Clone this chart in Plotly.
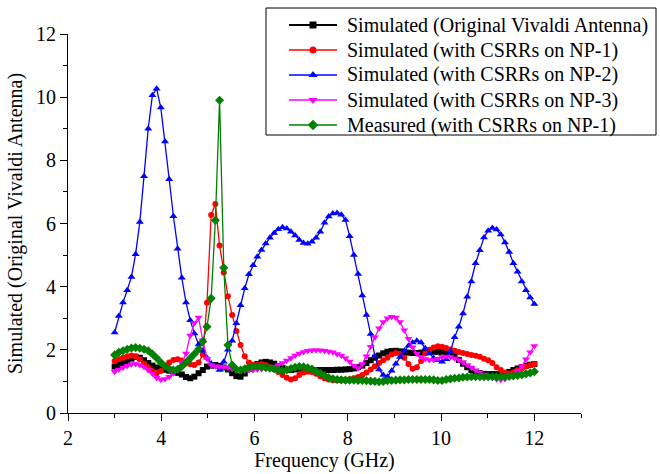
import numpy as np
import plotly.graph_objects as go

# Frequency sweep, 3-12 GHz in 101 points
freq_ghz = np.round(np.linspace(3.0, 12.0, 101), 2)

original_sim = [
    1.47, 1.52, 1.58, 1.64, 1.72, 1.78, 1.75, 1.67, 1.58, 1.50,
    1.44, 1.40, 1.37, 1.34, 1.31, 1.27, 1.22, 1.14, 1.10, 1.15,
    1.26, 1.36, 1.47, 1.50, 1.52, 1.49, 1.44, 1.38, 1.26, 1.17,
    1.15, 1.25, 1.40, 1.50, 1.55, 1.60, 1.62, 1.60, 1.56, 1.48,
    1.42, 1.37, 1.36, 1.38, 1.40, 1.40, 1.38, 1.36, 1.36, 1.36,
    1.36, 1.36, 1.36, 1.37, 1.37, 1.38, 1.39, 1.41, 1.45, 1.50,
    1.58, 1.67, 1.75, 1.82, 1.89, 1.94, 1.96, 1.97, 1.95, 1.93,
    1.91, 1.90, 1.90, 1.91, 1.92, 1.93, 1.94, 1.94, 1.94, 1.92,
    1.88, 1.80, 1.68, 1.56, 1.45, 1.36, 1.30, 1.26, 1.24, 1.23,
    1.23, 1.23, 1.23, 1.26, 1.30, 1.36, 1.41, 1.45, 1.50, 1.53,
    1.55,
]

np1_sim = [
    1.65, 1.70, 1.75, 1.80, 1.82, 1.80, 1.70, 1.57, 1.45, 1.32,
    1.26, 1.33, 1.48, 1.60, 1.68, 1.70, 1.66, 1.60, 1.54, 1.52,
    1.60, 1.85, 3.49, 6.27, 6.62, 5.30, 4.45, 3.70, 3.10, 2.60,
    2.15, 1.80, 1.60, 1.53, 1.52, 1.55, 1.52, 1.45, 1.38, 1.30,
    1.20, 1.12, 1.06, 1.10, 1.20, 1.28, 1.31, 1.30, 1.24, 1.16,
    1.10, 1.06, 1.04, 1.04, 1.04, 1.05, 1.07, 1.10, 1.14, 1.20,
    1.28, 1.38, 1.48, 1.58, 1.67, 1.75, 1.85, 1.90, 1.87, 1.75,
    1.55, 1.40, 1.45, 1.65, 1.88, 2.00, 2.07, 2.11, 2.10, 2.06,
    2.01, 1.97, 1.93, 1.90, 1.87, 1.84, 1.81, 1.78, 1.72, 1.67,
    1.58, 1.45, 1.36, 1.28, 1.25, 1.28, 1.35, 1.41, 1.47, 1.51,
    1.55,
]

np2_sim = [
    2.55, 3.07, 3.50, 3.89, 4.31, 5.03, 6.05, 7.50, 9.00, 10.06,
    10.27, 9.67, 8.60, 7.40, 6.23, 5.20, 4.28, 3.50, 2.94, 2.52,
    2.17, 1.97, 1.75, 1.57, 1.47, 1.36, 1.62, 2.00, 2.29, 2.84,
    3.41, 3.95, 4.39, 4.68, 4.95, 5.16, 5.37, 5.55, 5.70, 5.82,
    5.88, 5.84, 5.74, 5.62, 5.48, 5.38, 5.36, 5.42, 5.55, 5.74,
    6.02, 6.22, 6.32, 6.33, 6.28, 6.11, 5.60, 5.00, 4.40, 3.72,
    3.10, 2.50, 1.80, 1.38, 1.20, 1.15, 1.34, 1.56, 1.77, 1.97,
    2.13, 2.23, 2.29, 2.23, 2.05, 1.88, 1.74, 1.67, 1.62, 1.70,
    1.95, 2.40, 2.73, 3.15, 3.68, 4.16, 4.74, 5.15, 5.56, 5.77,
    5.86, 5.81, 5.65, 5.40, 5.10, 4.74, 4.47, 4.16, 3.89, 3.66,
    3.45,
]

np3_sim = [
    1.31, 1.38, 1.44, 1.50, 1.54, 1.55, 1.52, 1.46, 1.36, 1.25,
    1.12, 1.05, 1.08, 1.15, 1.26, 1.40, 1.58, 1.88, 2.45, 2.85,
    3.02, 2.30, 1.72, 1.52, 1.48, 1.47, 1.46, 1.45, 1.40, 1.37,
    1.35, 1.34, 1.35, 1.36, 1.38, 1.39, 1.41, 1.44, 1.47, 1.51,
    1.58, 1.66, 1.74, 1.82, 1.88, 1.93, 1.97, 1.99, 1.99, 1.99,
    1.97, 1.95, 1.92, 1.87, 1.82, 1.73, 1.63, 1.50, 1.42, 1.55,
    1.80, 2.10, 2.40, 2.68, 2.88, 3.00, 3.05, 3.02, 2.88, 2.62,
    2.35, 2.08, 1.88, 1.77, 1.71, 1.68, 1.68, 1.72, 1.78, 1.79,
    1.77, 1.73, 1.68, 1.61, 1.52, 1.44, 1.35, 1.28, 1.22, 1.18,
    1.12, 1.07, 1.05, 1.08, 1.14, 1.22, 1.33, 1.48, 1.70, 1.92,
    2.12,
]

np1_meas = [
    1.84, 1.92, 1.97, 2.02, 2.06, 2.07, 2.05, 2.02, 1.97, 1.87,
    1.74, 1.60, 1.48, 1.40, 1.36, 1.38, 1.47, 1.60, 1.73, 1.87,
    2.02, 2.26, 2.73, 3.63, 6.10, 9.90, 4.60, 2.15, 1.52, 1.38,
    1.36, 1.40, 1.45, 1.47, 1.47, 1.46, 1.44, 1.42, 1.40, 1.36,
    1.34, 1.36, 1.41, 1.45, 1.47, 1.46, 1.43, 1.39, 1.32, 1.26,
    1.19, 1.12, 1.08, 1.06, 1.05, 1.04, 1.04, 1.04, 1.03, 1.03,
    1.02, 1.01, 1.00, 0.99, 1.00, 1.02, 1.03, 1.04, 1.05, 1.05,
    1.06, 1.06, 1.06, 1.06, 1.06, 1.06, 1.05, 1.03, 1.03, 1.06,
    1.08, 1.10, 1.11, 1.13, 1.14, 1.15, 1.15, 1.15, 1.15, 1.15,
    1.15, 1.15, 1.15, 1.15, 1.16, 1.17, 1.19, 1.21, 1.24, 1.27,
    1.31,
]

series_names = [
    "Simulated (Original Vivaldi Antenna)",
    "Simulated (with CSRRs on NP-1)",
    "Simulated (with CSRRs on NP-2)",
    "Simulated (with CSRRs on NP-3)",
    "Measured (with CSRRs on NP-1)",
]
series_values = [original_sim, np1_sim, np2_sim, np3_sim, np1_meas]
series_colors = ["#000000", "#ff0000", "#0000ff", "#ff00ff", "#008000"]
series_symbols = ["square", "circle", "triangle-up", "triangle-down", "diamond"]
series_sizes = [6, 6, 7, 7, 7]
series_widths = [2.0, 1.3, 1.3, 1.3, 1.3]

font_family = "Liberation Serif, Times New Roman, serif"
text_size = 20

# Figure geometry in pixels
W, H = 660, 474
M_L, M_R, M_T, M_B = 68, 79, 34, 61
PLOT_W = W - M_L - M_R
PLOT_H = H - M_T - M_B


def paper_x(px):
    return (px - M_L) / PLOT_W


def paper_y(py):
    return (H - M_B - py) / PLOT_H


fig = go.Figure()
for name, vals, col, sym, sz, lw in zip(series_names, series_values, series_colors,
                                         series_symbols, series_sizes, series_widths):
    fig.add_trace(go.Scatter(
        x=freq_ghz, y=vals, name=name, mode="lines+markers", showlegend=False,
        line=dict(color=col, width=lw),
        marker=dict(color=col, symbol=sym, size=sz, line=dict(width=0)),
    ))

# Boxed key in the top-right corner: sample line, marker and label per series
key_left, key_right, key_top, key_bottom = 266, 656, 8, 135
key_row0, key_row_step = 25, 25
sample_x0, sample_x1, label_x = 289, 337, 345
key_mid = (sample_x0 + sample_x1) / 2

shapes = [dict(type="rect", xref="paper", yref="paper",
               x0=paper_x(key_left), x1=paper_x(key_right),
               y0=paper_y(key_bottom), y1=paper_y(key_top),
               line=dict(color="black", width=1), fillcolor="white", layer="below")]
annotations = []
for i, (name, col, lw) in enumerate(zip(series_names, series_colors, series_widths)):
    row_y = key_row0 + i * key_row_step
    shapes.append(dict(type="line", xref="paper", yref="paper",
                       x0=paper_x(sample_x0), x1=paper_x(sample_x1),
                       y0=paper_y(row_y), y1=paper_y(row_y),
                       line=dict(color=col, width=lw), layer="above"))
    annotations.append(dict(text=name, xref="paper", yref="paper",
                            x=paper_x(label_x), y=paper_y(row_y),
                            xanchor="left", yanchor="middle", showarrow=False,
                            font=dict(family=font_family, size=text_size, color="black")))

# First key row sits above the plotting area, so its square is drawn as a shape
half = 3.5
shapes.append(dict(type="rect", xref="paper", yref="paper",
                   x0=paper_x(key_mid - half), x1=paper_x(key_mid + half),
                   y0=paper_y(key_row0 + half), y1=paper_y(key_row0 - half),
                   line=dict(width=0), fillcolor=series_colors[0], layer="above"))

for i in range(1, len(series_names)):
    row_y = key_row0 + i * key_row_step
    fig.add_trace(go.Scatter(
        x=[paper_x(key_mid)], y=[paper_y(row_y)], xaxis="x2", yaxis="y2", mode="markers",
        showlegend=False, hoverinfo="skip", cliponaxis=False,
        marker=dict(color=series_colors[i], symbol=series_symbols[i],
                    size=series_sizes[i] + 1, line=dict(width=0)),
    ))

axis_common = dict(
    showline=True, linecolor="black", linewidth=1,
    ticks="outside", ticklen=7, tickwidth=1, tickcolor="black",
    showgrid=False, zeroline=False, mirror=False,
    tickfont=dict(family=font_family, size=text_size, color="black"),
    minor=dict(ticks="outside", ticklen=4, tickcolor="black", dtick=1),
)

fig.update_layout(
    xaxis=dict(range=[2, 13], tickvals=[2, 4, 6, 8, 10, 12], **axis_common,
               title=dict(text="Frequency (GHz)", standoff=2,
                          font=dict(family=font_family, size=text_size, color="black"))),
    yaxis=dict(range=[0, 12], tickvals=[0, 2, 4, 6, 8, 10, 12], **axis_common,
               title=dict(text="Simulated (Original Vivaldi Antenna)", standoff=8,
                          font=dict(family=font_family, size=text_size, color="black"))),
    xaxis2=dict(overlaying="x", range=[0, 1], visible=False, fixedrange=True),
    yaxis2=dict(overlaying="y", range=[0, 1], visible=False, fixedrange=True),
    width=W, height=H,
    margin=dict(l=M_L, r=M_R, t=M_T, b=M_B, autoexpand=False),
    paper_bgcolor="white", plot_bgcolor="white",
    font=dict(family=font_family, size=text_size, color="black"),
    shapes=shapes, annotations=annotations, showlegend=False,
)

fig.write_html("out.html")
